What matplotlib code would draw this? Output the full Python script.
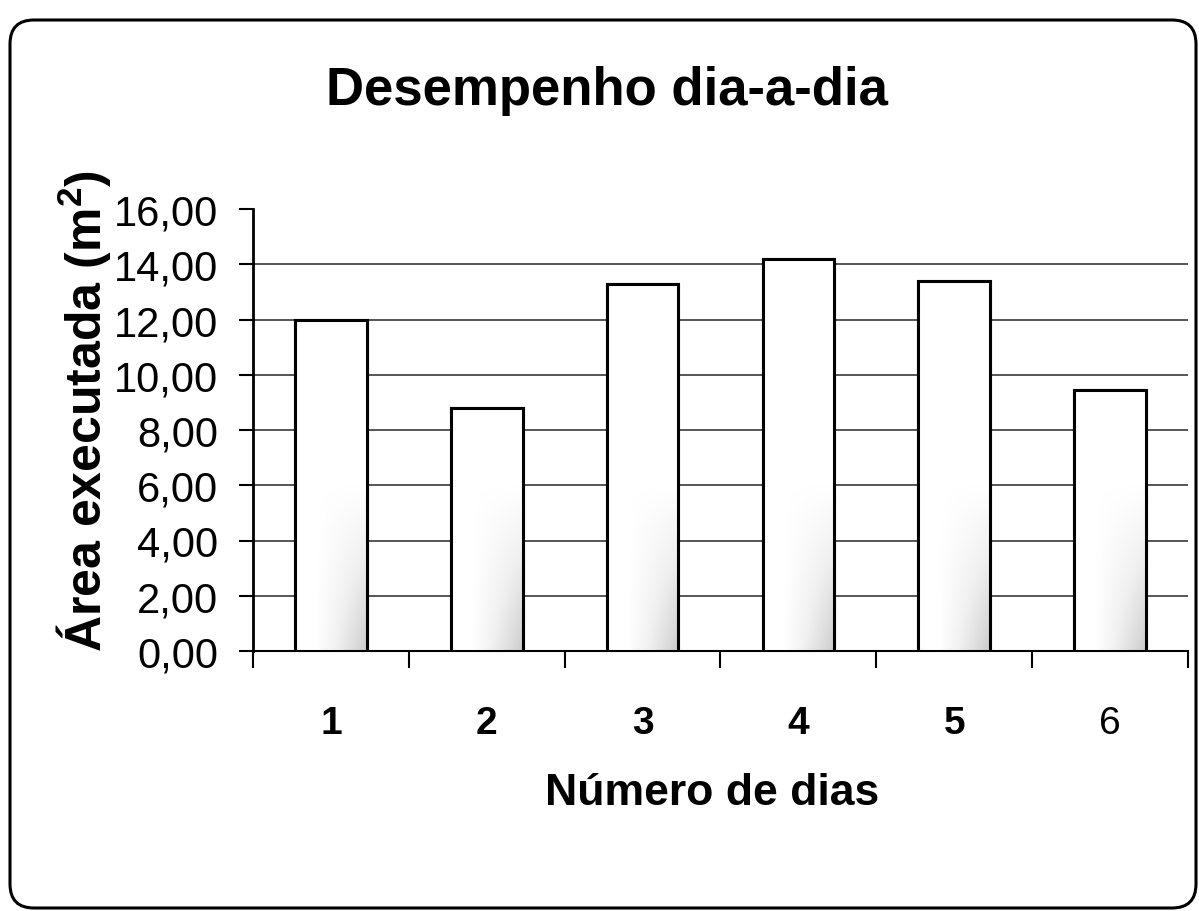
import matplotlib
matplotlib.use("Agg")
import matplotlib.pyplot as plt
import numpy as np
from matplotlib.patches import FancyBboxPatch

days = ["1", "2", "3", "4", "5", "6"]
area = [12.0, 8.8, 13.3, 14.2, 13.4, 9.45]
yticks = [0, 2, 4, 6, 8, 10, 12, 14, 16]
ytick_labels = ["0,00", "2,00", "4,00", "6,00", "8,00", "10,00", "12,00", "14,00", "16,00"]
title = "Desempenho dia-a-dia"
xlabel = "Número de dias"
ylabel = "Área executada (m$^\\mathregular{2}$)"

plt.rcParams["font.family"] = ["Liberation Sans", "DejaVu Sans"]

W, H = 1199, 912
fig = plt.figure(figsize=(W / 100, H / 100), dpi=100)
fig.patch.set_facecolor("white")

border = FancyBboxPatch((10, 3), 1186, 888,
                        boxstyle="round,pad=0,rounding_size=24",
                        transform=None, fill=False,
                        edgecolor="black", linewidth=2.2)
fig.patches.append(border)

ax = fig.add_axes([253 / W, 1 - 652 / H, (1188 - 253) / W, (652 - 210) / H])
x = np.arange(len(days))

for yv in yticks[1:-1]:
    ax.axhline(yv, color="#3a3a3a", linewidth=1.2, zorder=1)

bars = ax.bar(x, area, width=0.46, facecolor="white", edgecolor="black",
              linewidth=2.2, zorder=3)

# faint stipple-like shading towards the bottom-right inside each bar
gx = np.linspace(0, 1, 60)
gy = np.linspace(0, 1, 120)
GX, GY = np.meshgrid(gx, gy)
for b in bars:
    x0, w, h = b.get_x(), b.get_width(), b.get_height()
    frac = min(1.0, 6.0 / h)
    shade = np.clip((GX - 0.3) / 0.7, 0, 1) * np.clip(1 - GY / frac, 0, 1)
    im = ax.imshow(shade, extent=(x0, x0 + w, 0, h), origin="lower", cmap="Greys",
                   vmin=0, vmax=3.2, aspect="auto", zorder=3.5, interpolation="bilinear")
    im.set_clip_path(b)
    ax.add_patch(plt.Rectangle((x0, 0), w, h, fill=False, edgecolor="black",
                               linewidth=2.2, zorder=4))
ax.set_xlim(-0.5, len(days) - 0.5)
ax.set_ylim(0, 16)

for s in ["top", "right"]:
    ax.spines[s].set_visible(False)
ax.spines["left"].set_linewidth(2)
ax.spines["bottom"].set_linewidth(1.5)

ax.set_yticks(yticks)
ax.set_yticklabels(ytick_labels, fontsize=30)
ax.tick_params(axis="y", length=10, width=1.5, pad=15)

ax.set_xticks(x)
ax.set_xticklabels(days, fontsize=28)
for i, t in enumerate(ax.get_xticklabels()):
    t.set_fontweight("bold" if i < 5 else "normal")
ax.tick_params(axis="x", length=0, pad=39)
ax.set_xticks(np.arange(len(days) + 1) - 0.5, minor=True)
ax.tick_params(axis="x", which="minor", length=12, width=1.5)

fig.text(607 / W, 1 - 105 / H, title, fontsize=38, fontweight="bold",
         ha="center", va="baseline")
fig.text(712 / W, 1 - 805 / H, xlabel, fontsize=32, fontweight="bold",
         ha="center", va="baseline")
fig.text(84 / W, 1 - 411 / H, ylabel, fontsize=36, fontweight="bold",
         ha="center", va="center", rotation=90)

fig.savefig("out.png", dpi=100, facecolor="white")
